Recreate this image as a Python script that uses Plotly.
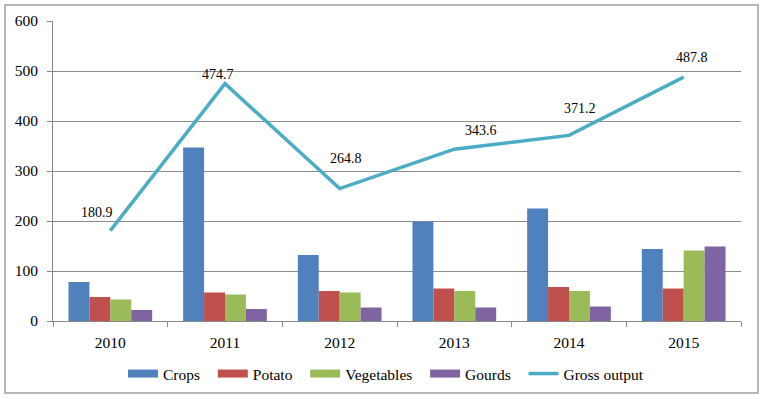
import plotly.graph_objects as go

years = ["2010", "2011", "2012", "2013", "2014", "2015"]
crops = [78, 347, 132, 199, 225, 144]
potato = [48, 57, 60, 65, 68, 65]
vegetables = [43, 53, 57, 60, 60, 141]
gourds = [22, 24, 27, 27, 29, 149]
gross_output = [180.9, 474.7, 264.8, 343.6, 371.2, 487.8]

# label offsets (pixels) for the gross output data labels
label_dx = [-13, -7, 6, 27, 11, 8]
label_dy = [18, 9, 30, 19, 27, 20]

font = "Liberation Serif"
pad = "\u00a0\u00a0"
fig = go.Figure()
bar_series = [("Crops", crops, "#4F81BD"), ("Potato", potato, "#C0504D"),
              ("Vegetables", vegetables, "#9BBB59"), ("Gourds", gourds, "#8064A2")]
for name, vals, col in bar_series:
    fig.add_bar(x=years, y=vals, name=name, legendgroup=name, showlegend=False,
                marker=dict(color=col, line=dict(width=0)))

# legend entries drawn as wide swatches (like the original)
for name, vals, col in bar_series:
    fig.add_scatter(x=[None], y=[None], name=name + pad, legendgroup=name, mode="lines",
                    line=dict(color=col, width=8))

fig.add_scatter(x=years, y=gross_output, name="Gross output", mode="lines",
                line=dict(color="#4BACC6", width=3.5))

for i, (v, dx, dy) in enumerate(zip(gross_output, label_dx, label_dy)):
    fig.add_annotation(x=i, y=v, text=f"{v:.1f}", showarrow=False, xshift=dx, yshift=dy,
                       font=dict(family=font, size=14, color="black"))

fig.add_shape(type="rect", xref="paper", yref="paper", x0=-0.0698, x1=1.0247, y0=-0.24, y1=1.0533,
              line=dict(color="#A0A0A0", width=1.5), fillcolor="rgba(0,0,0,0)", layer="below")

fig.update_layout(
    width=765, height=399,
    margin=dict(l=53, r=24, t=21, b=78, autoexpand=False),
    paper_bgcolor="white", plot_bgcolor="white",
    barmode="group", bargap=0.27, bargroupgap=0,
    font=dict(family=font, size=15.5, color="black"),
    showlegend=True,
    legend=dict(orientation="h", xref="container", yref="container", x=0.5046, xanchor="center",
                y=0.0627, yanchor="middle",
                font=dict(family=font, size=15.5), traceorder="normal", itemwidth=30),
    xaxis=dict(type="category", range=[-0.5, 5.5], showgrid=False, showline=True,
               linecolor="#888888", linewidth=1, automargin=False,
               ticks="outside", ticklen=5, tickcolor="#888888", tickson="boundaries",
               ticklabelstandoff=7, tickfont=dict(family=font, size=15.5)),
    yaxis=dict(range=[0, 600], dtick=100, showgrid=True, gridcolor="#8C8C8C", gridwidth=1,
               showline=True, linecolor="#888888", linewidth=1, ticks="outside", ticklen=5,
               tickcolor="#888888", zeroline=False, automargin=False, ticklabelstandoff=6,
               tickfont=dict(family=font, size=15.5)),
)

fig.write_html("out.html", config={"displayModeBar": False},
               post_script="document.body.style.margin='0';document.body.style.overflow='hidden';")
